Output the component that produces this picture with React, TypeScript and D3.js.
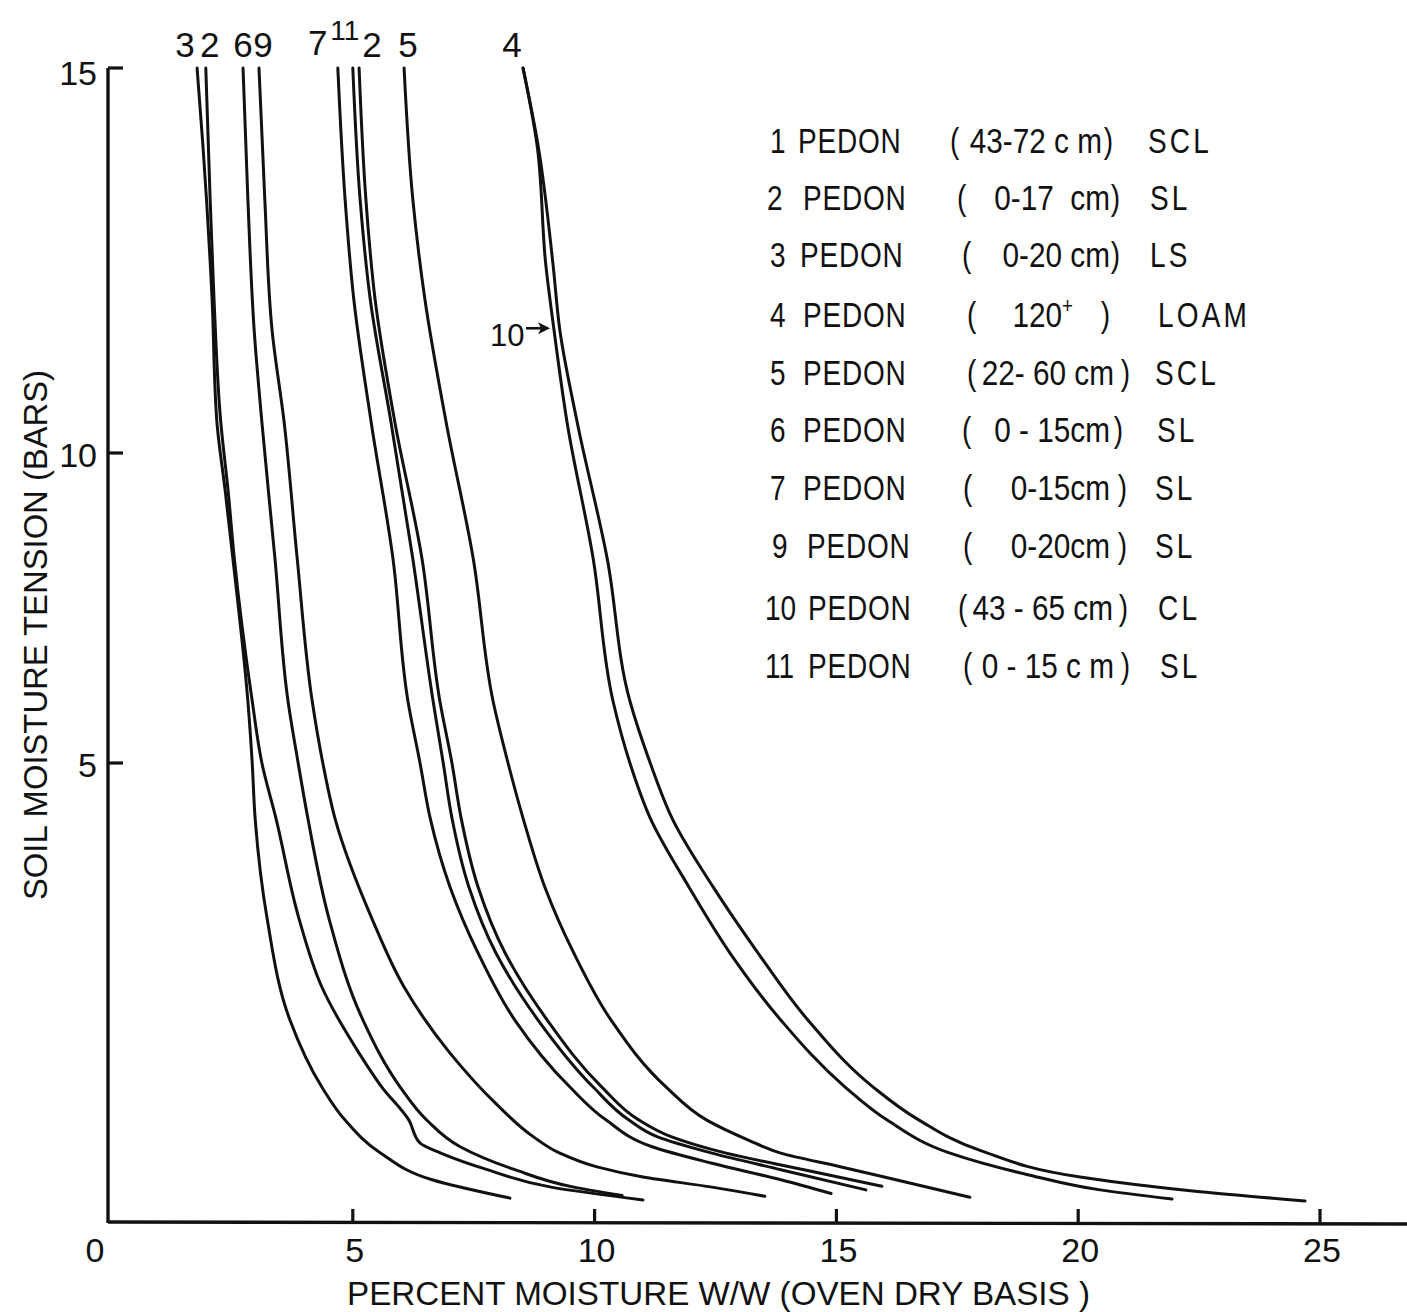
import React from 'react';
import * as d3 from 'd3';

const W = 1407;
const H = 1312;

// axis ticks
const moistureTicks = [0, 5, 10, 15, 20, 25];
const tensionTicks = [5, 10, 15];

// curves: [percent moisture w/w, soil moisture tension (bars)]
const pedon3: [number, number][] = [[1.78,15],[1.90,14.0],[2.09,12.0],[2.19,10.4],[2.36,9.4],[2.52,8.3],[2.83,6.0],[2.92,5.0],[2.98,4.4],[3.23,3.3],[3.70,2.2],[4.36,1.47],[4.84,1.11],[5.58,0.75],[6.64,0.46],[8.25,0.26]];
const pedon2: [number, number][] = [[1.96,15],[2.05,13.3],[2.13,12.0],[2.27,10.4],[2.42,9.4],[2.55,8.3],[2.92,6.0],[3.12,5.0],[3.41,4.4],[3.89,3.3],[4.36,2.56],[5.13,1.84],[5.60,1.47],[6.16,1.11],[6.39,0.86],[6.82,0.75],[7.78,0.57],[9.10,0.38],[11.00,0.24]];
const pedon6: [number, number][] = [[2.73,15],[2.83,13.3],[2.96,11.6],[3.12,10.4],[3.39,8.3],[3.66,6.0],[3.87,5.0],[4.07,4.4],[4.51,3.3],[5.21,2.2],[5.98,1.47],[6.53,1.11],[7.22,0.82],[8.35,0.57],[9.57,0.38],[10.57,0.29]];
const pedon9: [number, number][] = [[3.06,15],[3.18,13.3],[3.33,11.6],[3.58,10.4],[3.85,8.3],[4.16,6.0],[4.38,5.0],[4.63,4.4],[5.40,3.3],[6.06,2.56],[7.01,1.84],[7.96,1.29],[8.73,0.93],[9.28,0.75],[10.05,0.60],[11.00,0.49],[12.43,0.38],[13.52,0.28]];
const pedon7: [number, number][] = [[4.69,15],[4.84,13.3],[5.02,12.0],[5.38,10.4],[5.83,8.3],[6.14,6.0],[6.39,5.0],[6.60,4.4],[7.01,3.65],[7.59,2.93],[8.35,2.2],[9.49,1.47],[10.24,1.11],[11.19,0.82],[12.43,0.64],[13.85,0.46],[14.89,0.31]];
const pedon11: [number, number][] = [[5.00,15],[5.15,13.3],[5.36,12.0],[5.79,10.4],[6.24,8.3],[6.66,6.0],[6.87,5.0],[7.05,4.4],[7.40,3.65],[7.96,2.93],[8.83,2.2],[9.97,1.47],[10.71,1.11],[11.29,0.93],[12.43,0.75],[13.85,0.57],[15.61,0.35]];
const pedon1: [number, number][] = [[5.13,15],[5.27,13.3],[5.46,12.0],[5.87,10.4],[6.43,8.3],[6.80,6.0],[7.05,5.0],[7.24,4.4],[7.59,3.65],[8.15,2.93],[9.02,2.2],[10.15,1.47],[10.92,1.11],[11.58,0.93],[12.72,0.75],[14.33,0.57],[15.94,0.39]];
const pedon5: [number, number][] = [[6.06,15],[6.24,13.3],[6.49,12.0],[6.93,10.4],[7.49,8.3],[7.90,6.0],[8.21,5.0],[8.52,4.4],[8.97,3.65],[9.57,2.93],[10.34,2.2],[11.48,1.47],[12.32,1.11],[13.19,0.89],[13.85,0.75],[15.10,0.60],[16.23,0.46],[17.76,0.27]];
const pedon10: [number, number][] = [[8.52,15],[8.81,14.0],[8.99,12.45],[9.16,11.6],[9.43,10.4],[9.97,8.3],[10.38,6.0],[10.73,5.0],[11.15,4.4],[11.95,3.65],[12.80,2.93],[13.85,2.2],[15.18,1.47],[16.05,1.11],[17.35,0.75],[19.00,0.51],[20.45,0.35],[21.94,0.25]];
const pedon4: [number, number][] = [[8.52,15],[8.83,14.0],[9.14,12.45],[9.28,11.6],[9.64,10.4],[10.26,8.3],[10.73,6.0],[11.15,5.0],[11.60,4.4],[12.45,3.65],[13.38,2.93],[14.41,2.2],[15.76,1.47],[16.71,1.11],[17.97,0.78],[20.04,0.49],[22.52,0.33],[24.69,0.23]];

const curves = [pedon3, pedon2, pedon6, pedon9, pedon7, pedon11, pedon1, pedon5, pedon10, pedon4];
// label printed above the top of each curve (as in the figure)
const curveTopLabels = ['3', '2', '6', '9', '7', '11', '2', '5', '', '4'];

// legend
const legendNumbers = ['1', '2', '3', '4', '5', '6', '7', '9', '10', '11'];
const legendDepths = ['43-72 c m', '0-17  cm', '0-20 cm', '120⁺', '22- 60 cm', '0 - 15cm', '0-15cm', '0-20cm', '43 - 65 cm', '0 - 15 c m'];
const legendTextures = ['SCL', 'SL', 'LS', 'LOAM', 'SCL', 'SL', 'SL', 'SL', 'CL', 'SL'];

// layout (pixels)
const labelDx = [-12, 4, 0, 4, -20, -8, 13, 4, 0, -11];
const labelBase = [57, 57, 57, 57, 55, 40, 57, 57, 57, 57];
const legendBase = [153, 210, 267, 327, 385, 442, 500, 558, 620, 678];
const legendNumX = [770, 767, 770, 770, 770, 770, 770, 772, 765, 765];
const legendPedonX = [798, 803, 800, 803, 803, 803, 803, 807, 808, 808];
const parenL = [950, 957, 962, 967, 967, 962, 963, 963, 958, 963];
const parenR = [1113, 1120, 1120, 1110, 1130, 1123, 1127, 1127, 1128, 1130];
const innerEnd = [1102, 1110, 1110, 1073, 1114, 1110, 1110, 1110, 1113, 1114];
const textureX = [1148, 1150, 1150, 1158, 1155, 1157, 1155, 1155, 1158, 1160];

const FONT = '"Liberation Sans", Arial, sans-serif';
const INK = '#111';

export default function App() {
  const x = d3.scaleLinear().domain([0, 25]).range([111, 1320]);
  const y = d3.scaleLinear().domain([0, 5, 10, 15]).range([1222, 763, 453, 68]);
  const line = d3
    .line<[number, number]>()
    .x((d) => x(d[0]))
    .y((d) => y(d[1]))
    .curve(d3.curveMonotoneY);

  const axisX = x(0) - 3;
  const sx = 0.8;
  const sxInner = 0.85;
  const lf = 35;

  const arrowTipX = x(9.1);
  const arrowY = y(11.62);

  return (
    <svg
      width={W}
      height={H}
      viewBox={`0 0 ${W} ${H}`}
      style={{ position: 'absolute', left: 0, top: 0, background: '#fff' }}
      fontFamily={FONT}
    >
      <rect x={0} y={0} width={W} height={H} fill="#fff" />

      {/* axes */}
      <line x1={axisX} y1={y(15)} x2={axisX} y2={y(0) + 1} stroke={INK} strokeWidth={3.4} />
      <line x1={axisX} y1={y(0)} x2={W} y2={y(0) + 2} stroke={INK} strokeWidth={3.4} />
      {tensionTicks.map((t) => (
        <g key={`yt${t}`}>
          <line x1={axisX} y1={y(t)} x2={axisX + 15} y2={y(t)} stroke={INK} strokeWidth={3.2} />
          <text x={97} y={y(t) + (t === 15 ? 17 : 14)} fontSize={34} textAnchor="end" fill={INK}>
            {t}
          </text>
        </g>
      ))}
      {moistureTicks.map((m) => (
        <g key={`xt${m}`}>
          {m > 0 && <line x1={x(m)} y1={y(0)} x2={x(m)} y2={y(0) - 13} stroke={INK} strokeWidth={3.2} />}
          <text x={m === 0 ? x(0) - 16 : x(m) + 2} y={1262} fontSize={34} textAnchor="middle" fill={INK}>
            {m}
          </text>
        </g>
      ))}

      {/* axis titles */}
      <text x={347} y={1305} fontSize={34} textLength={743} lengthAdjust="spacingAndGlyphs" fill={INK}>
        PERCENT MOISTURE W/W (OVEN DRY BASIS )
      </text>
      <text
        transform="translate(47,635) rotate(-90)"
        fontSize={34}
        textAnchor="middle"
        textLength={530}
        lengthAdjust="spacingAndGlyphs"
        fill={INK}
      >
        SOIL MOISTURE TENSION (BARS)
      </text>

      {/* curves */}
      {curves.map((c, i) => (
        <path key={`c${i}`} d={line(c) || ''} fill="none" stroke={INK} strokeWidth={3} strokeLinecap="round" strokeLinejoin="round" />
      ))}

      {/* curve labels */}
      {curves.map((c, i) =>
        curveTopLabels[i] ? (
          <text
            key={`l${i}`}
            x={x(c[0][0]) + labelDx[i]}
            y={labelBase[i]}
            fontSize={curveTopLabels[i] === '11' ? 28 : 35}
            textAnchor="middle"
            fill={INK}
          >
            {curveTopLabels[i]}
          </text>
        ) : null
      )}

      {/* 10 -> annotation */}
      <text x={490} y={346} fontSize={31} fill={INK}>10</text>
      <line x1={526} y1={arrowY} x2={arrowTipX - 8} y2={arrowY} stroke={INK} strokeWidth={2.6} />
      <path
        d={`M${arrowTipX - 1},${arrowY} L${arrowTipX - 13},${arrowY - 6} L${arrowTipX - 10},${arrowY} L${arrowTipX - 13},${arrowY + 6} Z`}
        fill={INK}
      />

      {/* legend */}
      {legendNumbers.map((n, i) => {
        const by = legendBase[i];
        const depth = legendDepths[i];
        const sup = depth.endsWith('⁺');
        return (
          <g key={`lg${i}`} fill={INK} fontSize={lf} style={{ whiteSpace: 'pre' }}>
            <text transform={`translate(${legendNumX[i]},${by}) scale(${sx},1)`}>{n}</text>
            <text transform={`translate(${legendPedonX[i]},${by}) scale(${sx},1)`} letterSpacing={1}>PEDON</text>
            <text transform={`translate(${parenL[i]},${by}) scale(${sx},1)`}>(</text>
            <text transform={`translate(${parenR[i]},${by}) scale(${sx},1)`} textAnchor="end">)</text>
            <text
              transform={`translate(${innerEnd[i]},${by}) scale(${sxInner},1)`}
              textAnchor="end"
              xmlSpace="preserve"
              style={{ whiteSpace: 'pre' }}
            >
              {sup ? (
                <>
                  {depth.slice(0, -1)}
                  <tspan fontSize={22} dy={-14}>+</tspan>
                </>
              ) : (
                depth
              )}
            </text>
            <text transform={`translate(${textureX[i]},${by}) scale(${sx},1)`} letterSpacing={4}>
              {legendTextures[i]}
            </text>
          </g>
        );
      })}
    </svg>
  );
}
